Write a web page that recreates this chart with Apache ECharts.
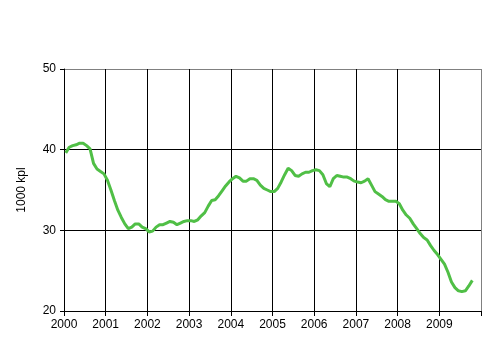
<!DOCTYPE html>
<html>
<head>
<meta charset="utf-8">
<script src="https://cdn.jsdelivr.net/npm/echarts@6/dist/echarts.min.js"></script>
<style>
  html, body { margin: 0; padding: 0; background: #ffffff; }
  #main { width: 496px; height: 357px; }
</style>
</head>
<body>
<div id="main"></div>
<script>
// kuukausiarvot, 1000 kpl (tammikuu 2000 - lokakuu 2009)
var startYear = 2000;
var v2000 = [39.6, 40.3, 40.5, 40.6, 40.8, 40.8, 40.5, 40.1, 38.3, 37.6, 37.3, 37.0];
var v2001 = [36.2, 35.0, 33.7, 32.5, 31.6, 30.8, 30.2, 30.4, 30.8, 30.8, 30.4, 30.2];
var v2002 = [29.8, 29.9, 30.4, 30.7, 30.7, 30.9, 31.1, 31.0, 30.7, 30.9, 31.1, 31.2];
var v2003 = [31.2, 31.1, 31.3, 31.8, 32.2, 33.0, 33.7, 33.8, 34.3, 34.9, 35.5, 36.0];
var v2004 = [36.4, 36.7, 36.5, 36.1, 36.1, 36.4, 36.4, 36.2, 35.6, 35.2, 35.0, 34.8];
var v2005 = [34.8, 35.2, 36.0, 36.9, 37.7, 37.4, 36.8, 36.7, 37.0, 37.2, 37.2, 37.4];
var v2006 = [37.5, 37.4, 36.9, 35.8, 35.4, 36.4, 36.8, 36.7, 36.6, 36.6, 36.4, 36.1];
var v2007 = [36.0, 35.9, 36.1, 36.4, 35.6, 34.8, 34.5, 34.2, 33.8, 33.6, 33.6, 33.6];
var v2008 = [33.3, 32.5, 31.9, 31.5, 30.8, 30.2, 29.6, 29.1, 28.8, 28.1, 27.5, 27.0];
var v2009 = [26.4, 25.8, 24.8, 23.6, 22.9, 22.5, 22.4, 22.5, 23.1, 23.8];
var yearTicks = [2000, 2001, 2002, 2003, 2004, 2005, 2006, 2007, 2008, 2009];

var years = [v2000, v2001, v2002, v2003, v2004, v2005, v2006, v2007, v2008, v2009];
var points = [];
years.forEach(function (arr, yi) {
  arr.forEach(function (v, m) {
    points.push([startYear + yi + (m + 0.5) / 12, v]);
  });
});

var chart = echarts.init(document.getElementById('main'));
var fnt = 'Liberation Sans, Arial, sans-serif';
var gridCols = ['#000000', '#000000', '#000000', '#000000', '#000000', '#000000',
                '#000000', '#000000', '#000000', '#000000', '#808080'];

chart.setOption({
  animation: false,
  grid: { left: 64, right: 15, top: 69, bottom: 46 },
  xAxis: {
    type: 'value',
    min: 2000,
    max: 2010,
    interval: 1,
    axisLine: { lineStyle: { color: '#000000', width: 1 } },
    axisTick: { show: true, length: 5, lineStyle: { color: '#000000' } },
    axisLabel: {
      color: '#000000', fontFamily: fnt, fontSize: 12, margin: 8,
      formatter: function (v) { return yearTicks.indexOf(v) >= 0 ? String(v) : ''; }
    },
    splitLine: { show: true, lineStyle: { color: gridCols, width: 1 } }
  },
  yAxis: {
    type: 'value',
    name: '1000 kpl',
    nameLocation: 'middle',
    nameGap: 36,
    nameTextStyle: { color: '#000000', fontFamily: fnt, fontSize: 12 },
    min: 20,
    max: 50,
    interval: 10,
    axisLine: { show: true, lineStyle: { color: '#000000', width: 1 } },
    axisTick: { show: true, length: 4, lineStyle: { color: '#000000' } },
    axisLabel: { color: '#000000', fontFamily: fnt, fontSize: 12, margin: 8 },
    splitLine: { show: true, lineStyle: { color: ['#000000', '#000000', '#000000', '#808080'], width: 1 } }
  },
  series: [{
    type: 'line',
    data: points,
    showSymbol: false,
    lineStyle: { color: '#50bf46', width: 3 },
    itemStyle: { color: '#50bf46' }
  }]
});
</script>
</body>
</html>
